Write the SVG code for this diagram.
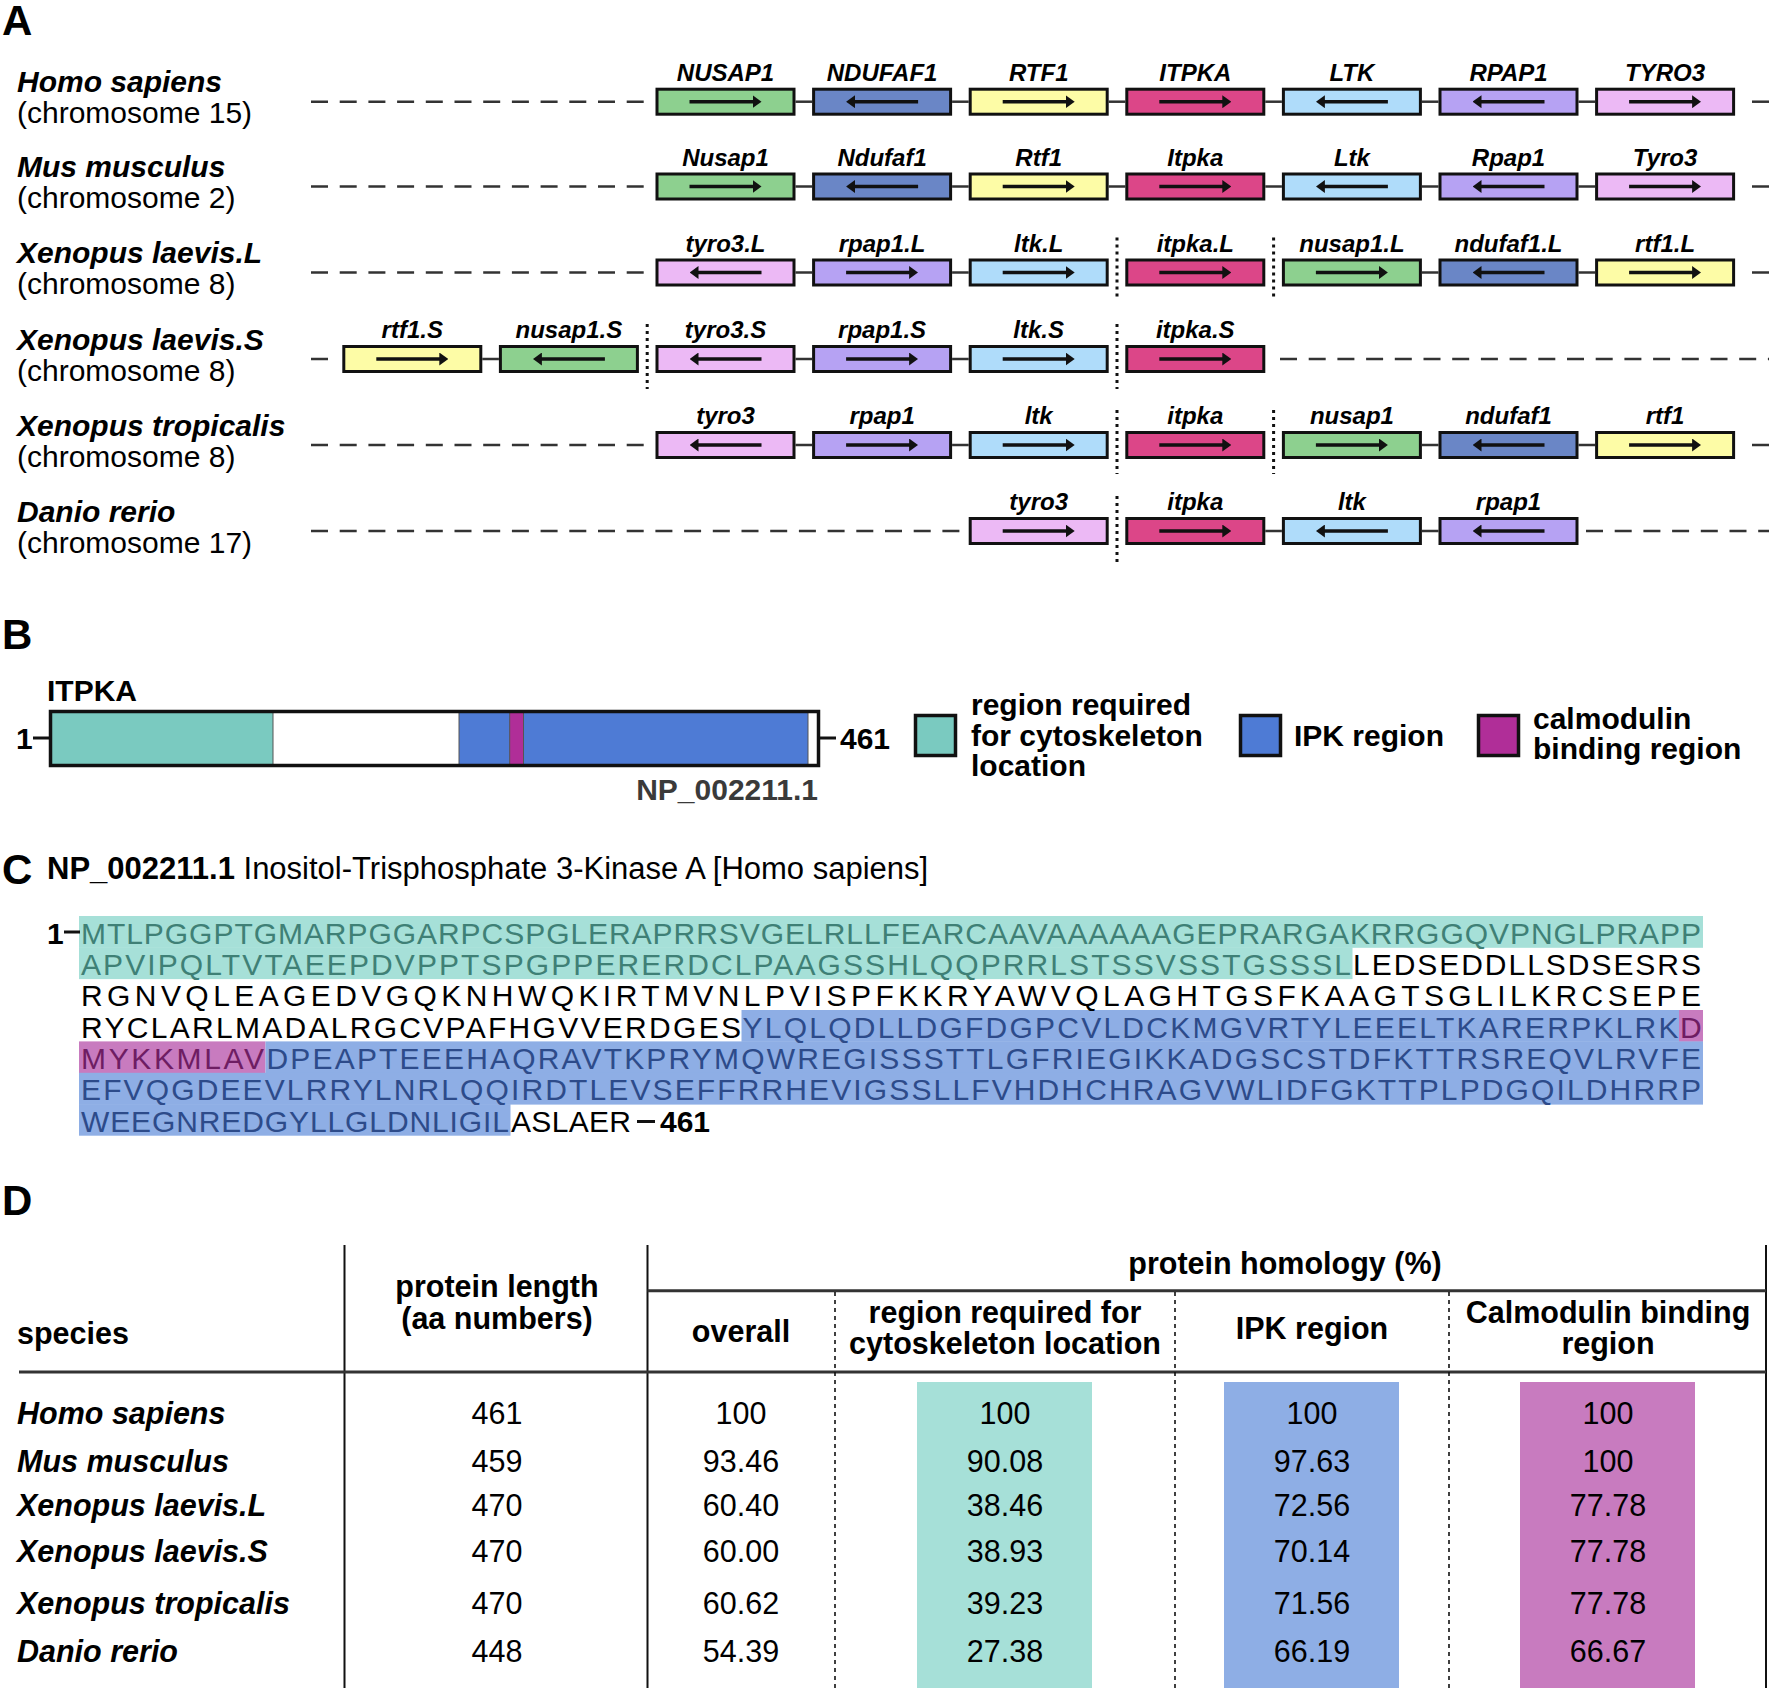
<svg xmlns="http://www.w3.org/2000/svg" width="1772" height="1688" viewBox="0 0 1772 1688">
<style>
text{font-family:"Liberation Sans",Arial,sans-serif;fill:#000}
.pl{font-weight:bold;font-size:42px}
.sp{font-style:italic;font-weight:bold;font-size:30px}
.ch{font-size:30px}
.gl{font-style:italic;font-weight:bold;font-size:24px;text-anchor:middle}
.b{stroke:#111;stroke-width:3}
.ar{stroke:#111;stroke-width:3.5;marker-end:url(#ah)}
.cn{stroke:#333;stroke-width:2.5}
.dl{stroke:#333;stroke-width:2.5;stroke-dasharray:17 11.7}
.dt{stroke:#111;stroke-width:3;stroke-dasharray:3 4}
.gr{fill:#8dd08f}.nv{fill:#6a86c6}.ye{fill:#fdfca6}.rd{fill:#dc4688}.lb{fill:#afdcfa}.pu{fill:#b6a2f3}.pk{fill:#ecb9f5}
.bt{font-weight:bold;font-size:30px}
.sq{font-size:30px}
.tt{fill:#3f8076}.tb{fill:#2d4b8a}.tm{fill:#6e1d63}
.hd{font-weight:bold;font-size:30.5px;text-anchor:middle}
.sh{font-weight:bold;font-size:30.5px}
.ts{font-style:italic;font-weight:bold;font-size:30.5px}
.num{font-size:30.5px;text-anchor:middle}
.vl{stroke:#111;stroke-width:2}
.hl{stroke:#333;stroke-width:3}
.dv{stroke:#111;stroke-width:1.6;stroke-dasharray:4 4}
</style>
<defs>
<marker id="ah" viewBox="0 0 9 13" refX="4" refY="6.5" markerWidth="9" markerHeight="13" markerUnits="userSpaceOnUse" orient="auto"><path d="M0,0 L9,6.5 L0,13 z" fill="#111"/></marker>
</defs>

<!-- Panel A -->
<text class="pl" x="2" y="35">A</text>
<g id="species-A">
<text class="sp" x="17" y="92">Homo sapiens</text><text class="ch" x="17" y="123">(chromosome 15)</text>
<text class="sp" x="17" y="177">Mus musculus</text><text class="ch" x="17" y="208">(chromosome 2)</text>
<text class="sp" x="17" y="263">Xenopus laevis.L</text><text class="ch" x="17" y="294">(chromosome 8)</text>
<text class="sp" x="17" y="349.5">Xenopus laevis.S</text><text class="ch" x="17" y="380.5">(chromosome 8)</text>
<text class="sp" x="17" y="435.5">Xenopus tropicalis</text><text class="ch" x="17" y="466.5">(chromosome 8)</text>
<text class="sp" x="17" y="521.5">Danio rerio</text><text class="ch" x="17" y="552.5">(chromosome 17)</text>
</g>

<g id="connectors">
<!-- row1 -->
<line class="dl" x1="311" y1="101.7" x2="645" y2="101.7"/>
<line class="dl" x1="1752" y1="101.7" x2="1769" y2="101.7"/>
<line class="cn" x1="795.5" y1="101.7" x2="812.1" y2="101.7"/><line class="cn" x1="952.1" y1="101.7" x2="968.7" y2="101.7"/><line class="cn" x1="1108.7" y1="101.7" x2="1125.3" y2="101.7"/><line class="cn" x1="1265.3" y1="101.7" x2="1281.9" y2="101.7"/><line class="cn" x1="1421.9" y1="101.7" x2="1438.5" y2="101.7"/><line class="cn" x1="1578.5" y1="101.7" x2="1595.1" y2="101.7"/>
<!-- row2 -->
<line class="dl" x1="311" y1="186.5" x2="645" y2="186.5"/>
<line class="dl" x1="1752" y1="186.5" x2="1769" y2="186.5"/>
<line class="cn" x1="795.5" y1="186.5" x2="812.1" y2="186.5"/><line class="cn" x1="952.1" y1="186.5" x2="968.7" y2="186.5"/><line class="cn" x1="1108.7" y1="186.5" x2="1125.3" y2="186.5"/><line class="cn" x1="1265.3" y1="186.5" x2="1281.9" y2="186.5"/><line class="cn" x1="1421.9" y1="186.5" x2="1438.5" y2="186.5"/><line class="cn" x1="1578.5" y1="186.5" x2="1595.1" y2="186.5"/>
<!-- row3 -->
<line class="dl" x1="311" y1="272.5" x2="645" y2="272.5"/>
<line class="dl" x1="1752" y1="272.5" x2="1769" y2="272.5"/>
<line class="cn" x1="795.5" y1="272.5" x2="812.1" y2="272.5"/><line class="cn" x1="952.1" y1="272.5" x2="968.7" y2="272.5"/><line class="cn" x1="1421.9" y1="272.5" x2="1438.5" y2="272.5"/><line class="cn" x1="1578.5" y1="272.5" x2="1595.1" y2="272.5"/>
<line class="dt" x1="1117" y1="237.5" x2="1117" y2="299.5"/><line class="dt" x1="1273.6" y1="237.5" x2="1273.6" y2="299.5"/>
<!-- row4 -->
<line class="dl" x1="311" y1="359" x2="338" y2="359"/>
<line class="dl" x1="1280" y1="359" x2="1769" y2="359"/>
<line class="cn" x1="482.3" y1="359" x2="498.9" y2="359"/><line class="cn" x1="795.5" y1="359" x2="812.1" y2="359"/><line class="cn" x1="952.1" y1="359" x2="968.7" y2="359"/>
<line class="dt" x1="647.2" y1="324" x2="647.2" y2="389"/><line class="dt" x1="1117" y1="324" x2="1117" y2="389"/>
<!-- row5 -->
<line class="dl" x1="311" y1="445" x2="645" y2="445"/>
<line class="dl" x1="1752" y1="445" x2="1769" y2="445"/>
<line class="cn" x1="795.5" y1="445" x2="812.1" y2="445"/><line class="cn" x1="952.1" y1="445" x2="968.7" y2="445"/><line class="cn" x1="1421.9" y1="445" x2="1438.5" y2="445"/><line class="cn" x1="1578.5" y1="445" x2="1595.1" y2="445"/>
<line class="dt" x1="1117" y1="410" x2="1117" y2="474"/><line class="dt" x1="1273.6" y1="410" x2="1273.6" y2="474"/>
<!-- row6 -->
<line class="dl" x1="311" y1="531" x2="963" y2="531"/>
<line class="dl" x1="1586" y1="531" x2="1769" y2="531"/>
<line class="cn" x1="1265.3" y1="531" x2="1281.9" y2="531"/><line class="cn" x1="1421.9" y1="531" x2="1438.5" y2="531"/>
<line class="dt" x1="1117" y1="496" x2="1117" y2="562"/>
</g>

<!-- row 1 genes -->
<g id="r1-NUSAP1"><rect class="b gr" x="657" y="89.2" width="137" height="25"/><line class="ar" x1="689.5" y1="101.7" x2="756.5" y2="101.7"/><text class="gl" x="725.5" y="80.7">NUSAP1</text></g>
<g id="r1-NDUFAF1"><rect class="b nv" x="813.6" y="89.2" width="137" height="25"/><line class="ar" x1="918.1" y1="101.7" x2="851.1" y2="101.7"/><text class="gl" x="882.1" y="80.7">NDUFAF1</text></g>
<g id="r1-RTF1"><rect class="b ye" x="970.2" y="89.2" width="137" height="25"/><line class="ar" x1="1002.7" y1="101.7" x2="1069.7" y2="101.7"/><text class="gl" x="1038.7" y="80.7">RTF1</text></g>
<g id="r1-ITPKA"><rect class="b rd" x="1126.8" y="89.2" width="137" height="25"/><line class="ar" x1="1159.3" y1="101.7" x2="1226.3" y2="101.7"/><text class="gl" x="1195.3" y="80.7">ITPKA</text></g>
<g id="r1-LTK"><rect class="b lb" x="1283.4" y="89.2" width="137" height="25"/><line class="ar" x1="1387.9" y1="101.7" x2="1320.9" y2="101.7"/><text class="gl" x="1351.9" y="80.7">LTK</text></g>
<g id="r1-RPAP1"><rect class="b pu" x="1440" y="89.2" width="137" height="25"/><line class="ar" x1="1544.5" y1="101.7" x2="1477.5" y2="101.7"/><text class="gl" x="1508.5" y="80.7">RPAP1</text></g>
<g id="r1-TYRO3"><rect class="b pk" x="1596.6" y="89.2" width="137" height="25"/><line class="ar" x1="1629.1" y1="101.7" x2="1696.1" y2="101.7"/><text class="gl" x="1665.1" y="80.7">TYRO3</text></g>

<!-- row 2 genes -->
<g id="r2-Nusap1"><rect class="b gr" x="657" y="174" width="137" height="25"/><line class="ar" x1="689.5" y1="186.5" x2="756.5" y2="186.5"/><text class="gl" x="725.5" y="165.5">Nusap1</text></g>
<g id="r2-Ndufaf1"><rect class="b nv" x="813.6" y="174" width="137" height="25"/><line class="ar" x1="918.1" y1="186.5" x2="851.1" y2="186.5"/><text class="gl" x="882.1" y="165.5">Ndufaf1</text></g>
<g id="r2-Rtf1"><rect class="b ye" x="970.2" y="174" width="137" height="25"/><line class="ar" x1="1002.7" y1="186.5" x2="1069.7" y2="186.5"/><text class="gl" x="1038.7" y="165.5">Rtf1</text></g>
<g id="r2-Itpka"><rect class="b rd" x="1126.8" y="174" width="137" height="25"/><line class="ar" x1="1159.3" y1="186.5" x2="1226.3" y2="186.5"/><text class="gl" x="1195.3" y="165.5">Itpka</text></g>
<g id="r2-Ltk"><rect class="b lb" x="1283.4" y="174" width="137" height="25"/><line class="ar" x1="1387.9" y1="186.5" x2="1320.9" y2="186.5"/><text class="gl" x="1351.9" y="165.5">Ltk</text></g>
<g id="r2-Rpap1"><rect class="b pu" x="1440" y="174" width="137" height="25"/><line class="ar" x1="1544.5" y1="186.5" x2="1477.5" y2="186.5"/><text class="gl" x="1508.5" y="165.5">Rpap1</text></g>
<g id="r2-Tyro3"><rect class="b pk" x="1596.6" y="174" width="137" height="25"/><line class="ar" x1="1629.1" y1="186.5" x2="1696.1" y2="186.5"/><text class="gl" x="1665.1" y="165.5">Tyro3</text></g>

<!-- row 3 genes -->
<g id="r3-tyro3L"><rect class="b pk" x="657" y="260" width="137" height="25"/><line class="ar" x1="761.5" y1="272.5" x2="694.5" y2="272.5"/><text class="gl" x="725.5" y="251.5">tyro3.L</text></g>
<g id="r3-rpap1L"><rect class="b pu" x="813.6" y="260" width="137" height="25"/><line class="ar" x1="846.1" y1="272.5" x2="913.1" y2="272.5"/><text class="gl" x="882.1" y="251.5">rpap1.L</text></g>
<g id="r3-ltkL"><rect class="b lb" x="970.2" y="260" width="137" height="25"/><line class="ar" x1="1002.7" y1="272.5" x2="1069.7" y2="272.5"/><text class="gl" x="1038.7" y="251.5">ltk.L</text></g>
<g id="r3-itpkaL"><rect class="b rd" x="1126.8" y="260" width="137" height="25"/><line class="ar" x1="1159.3" y1="272.5" x2="1226.3" y2="272.5"/><text class="gl" x="1195.3" y="251.5">itpka.L</text></g>
<g id="r3-nusap1L"><rect class="b gr" x="1283.4" y="260" width="137" height="25"/><line class="ar" x1="1315.9" y1="272.5" x2="1382.9" y2="272.5"/><text class="gl" x="1351.9" y="251.5">nusap1.L</text></g>
<g id="r3-ndufaf1L"><rect class="b nv" x="1440" y="260" width="137" height="25"/><line class="ar" x1="1544.5" y1="272.5" x2="1477.5" y2="272.5"/><text class="gl" x="1508.5" y="251.5">ndufaf1.L</text></g>
<g id="r3-rtf1L"><rect class="b ye" x="1596.6" y="260" width="137" height="25"/><line class="ar" x1="1629.1" y1="272.5" x2="1696.1" y2="272.5"/><text class="gl" x="1665.1" y="251.5">rtf1.L</text></g>

<!-- row 4 genes -->
<g id="r4-rtf1S"><rect class="b ye" x="343.8" y="346.5" width="137" height="25"/><line class="ar" x1="376.3" y1="359" x2="443.3" y2="359"/><text class="gl" x="412.3" y="338">rtf1.S</text></g>
<g id="r4-nusap1S"><rect class="b gr" x="500.4" y="346.5" width="137" height="25"/><line class="ar" x1="604.9" y1="359" x2="537.9" y2="359"/><text class="gl" x="568.9" y="338">nusap1.S</text></g>
<g id="r4-tyro3S"><rect class="b pk" x="657" y="346.5" width="137" height="25"/><line class="ar" x1="761.5" y1="359" x2="694.5" y2="359"/><text class="gl" x="725.5" y="338">tyro3.S</text></g>
<g id="r4-rpap1S"><rect class="b pu" x="813.6" y="346.5" width="137" height="25"/><line class="ar" x1="846.1" y1="359" x2="913.1" y2="359"/><text class="gl" x="882.1" y="338">rpap1.S</text></g>
<g id="r4-ltkS"><rect class="b lb" x="970.2" y="346.5" width="137" height="25"/><line class="ar" x1="1002.7" y1="359" x2="1069.7" y2="359"/><text class="gl" x="1038.7" y="338">ltk.S</text></g>
<g id="r4-itpkaS"><rect class="b rd" x="1126.8" y="346.5" width="137" height="25"/><line class="ar" x1="1159.3" y1="359" x2="1226.3" y2="359"/><text class="gl" x="1195.3" y="338">itpka.S</text></g>

<!-- row 5 genes -->
<g id="r5-tyro3"><rect class="b pk" x="657" y="432.5" width="137" height="25"/><line class="ar" x1="761.5" y1="445" x2="694.5" y2="445"/><text class="gl" x="725.5" y="424">tyro3</text></g>
<g id="r5-rpap1"><rect class="b pu" x="813.6" y="432.5" width="137" height="25"/><line class="ar" x1="846.1" y1="445" x2="913.1" y2="445"/><text class="gl" x="882.1" y="424">rpap1</text></g>
<g id="r5-ltk"><rect class="b lb" x="970.2" y="432.5" width="137" height="25"/><line class="ar" x1="1002.7" y1="445" x2="1069.7" y2="445"/><text class="gl" x="1038.7" y="424">ltk</text></g>
<g id="r5-itpka"><rect class="b rd" x="1126.8" y="432.5" width="137" height="25"/><line class="ar" x1="1159.3" y1="445" x2="1226.3" y2="445"/><text class="gl" x="1195.3" y="424">itpka</text></g>
<g id="r5-nusap1"><rect class="b gr" x="1283.4" y="432.5" width="137" height="25"/><line class="ar" x1="1315.9" y1="445" x2="1382.9" y2="445"/><text class="gl" x="1351.9" y="424">nusap1</text></g>
<g id="r5-ndufaf1"><rect class="b nv" x="1440" y="432.5" width="137" height="25"/><line class="ar" x1="1544.5" y1="445" x2="1477.5" y2="445"/><text class="gl" x="1508.5" y="424">ndufaf1</text></g>
<g id="r5-rtf1"><rect class="b ye" x="1596.6" y="432.5" width="137" height="25"/><line class="ar" x1="1629.1" y1="445" x2="1696.1" y2="445"/><text class="gl" x="1665.1" y="424">rtf1</text></g>

<!-- row 6 genes -->
<g id="r6-tyro3"><rect class="b pk" x="970.2" y="518.5" width="137" height="25"/><line class="ar" x1="1002.7" y1="531" x2="1069.7" y2="531"/><text class="gl" x="1038.7" y="510">tyro3</text></g>
<g id="r6-itpka"><rect class="b rd" x="1126.8" y="518.5" width="137" height="25"/><line class="ar" x1="1159.3" y1="531" x2="1226.3" y2="531"/><text class="gl" x="1195.3" y="510">itpka</text></g>
<g id="r6-ltk"><rect class="b lb" x="1283.4" y="518.5" width="137" height="25"/><line class="ar" x1="1387.9" y1="531" x2="1320.9" y2="531"/><text class="gl" x="1351.9" y="510">ltk</text></g>
<g id="r6-rpap1"><rect class="b pu" x="1440" y="518.5" width="137" height="25"/><line class="ar" x1="1544.5" y1="531" x2="1477.5" y2="531"/><text class="gl" x="1508.5" y="510">rpap1</text></g>

<!-- Panel B -->
<text class="pl" x="2" y="649">B</text>
<g id="protein-bar">
<text class="bt" x="47" y="701">ITPKA</text>
<text class="bt" x="16" y="749">1</text>
<line x1="33" y1="738" x2="49" y2="738" stroke="#111" stroke-width="3"/>
<rect x="50.5" y="711.5" width="768" height="54" fill="#fff"/>
<rect x="50.5" y="711.5" width="222.5" height="54" fill="#7acac0"/>
<rect x="459" y="711.5" width="349" height="54" fill="#4e7bd5"/>
<rect x="509.7" y="711.5" width="13.8" height="54" fill="#b02e98"/>
<line x1="273" y1="711.5" x2="273" y2="765.5" stroke="#555" stroke-width="1"/>
<line x1="459" y1="711.5" x2="459" y2="765.5" stroke="#555" stroke-width="1"/>
<line x1="509.7" y1="711.5" x2="509.7" y2="765.5" stroke="#555" stroke-width="1"/>
<line x1="523.5" y1="711.5" x2="523.5" y2="765.5" stroke="#555" stroke-width="1"/>
<line x1="808" y1="711.5" x2="808" y2="765.5" stroke="#555" stroke-width="1"/>
<rect x="50.5" y="711.5" width="768" height="54" fill="none" stroke="#111" stroke-width="3.5"/>
<line x1="820" y1="738" x2="836" y2="738" stroke="#111" stroke-width="3"/>
<text class="bt" x="840" y="749">461</text>
<text class="bt" x="818" y="800" text-anchor="end" style="fill:#3a3a3a">NP_002211.1</text>
</g>
<g id="legend">
<rect x="915.5" y="715.5" width="40" height="40" fill="#7acac0" stroke="#111" stroke-width="3.5"/>
<text class="bt" x="971" y="715">region required</text>
<text class="bt" x="971" y="746">for cytoskeleton</text>
<text class="bt" x="971" y="776">location</text>
<rect x="1240.5" y="715.5" width="40" height="40" fill="#4e7bd5" stroke="#111" stroke-width="3.5"/>
<text class="bt" x="1294" y="746">IPK region</text>
<rect x="1478.5" y="715.5" width="40" height="40" fill="#b02e98" stroke="#111" stroke-width="3.5"/>
<text class="bt" x="1533" y="729">calmodulin</text>
<text class="bt" x="1533" y="759">binding region</text>
</g>

<!-- Panel C -->
<text class="pl" x="2" y="884">C</text>
<g id="sequence">
<text x="47" y="879" style="font-size:31px"><tspan font-weight="bold">NP_002211.1</tspan> Inositol-Trisphosphate 3-Kinase A [Homo sapiens]</text>
<rect x="79" y="916" width="1624" height="31.8" fill="#a6e0d8"/>
<rect x="79" y="947.3" width="1273.5" height="31.8" fill="#a6e0d8"/>
<rect x="741.5" y="1010" width="937.5" height="31.8" fill="#8eaee5"/>
<rect x="1679" y="1010" width="24" height="31.8" fill="#c87bbf"/>
<rect x="79" y="1041.4" width="186.5" height="31.8" fill="#c87bbf"/>
<rect x="265.5" y="1041.4" width="1437.5" height="31.8" fill="#8eaee5"/>
<rect x="79" y="1072.8" width="1624" height="31.8" fill="#8eaee5"/>
<rect x="79" y="1104.1" width="431.5" height="31.6" fill="#8eaee5"/>
<text class="bt" x="47" y="943.5">1</text>
<line x1="64" y1="932" x2="80" y2="932" stroke="#111" stroke-width="3"/>
<text class="sq tt" x="81" y="943.5" textLength="1620" lengthAdjust="spacing">MTLPGGPTGMARPGGARPCSPGLERAPRRSVGELRLLFEARCAAVAAAAAAGEPRARGAKRRGGQVPNGLPRAPP</text>
<text class="sq tt" x="81" y="974.9" textLength="1270" lengthAdjust="spacing">APVIPQLTVTAEEPDVPPTSPGPPERERDCLPAAGSSHLQQPRRLSTSSVSSTGSSSL</text>
<text class="sq" x="1353" y="974.9" textLength="348" lengthAdjust="spacing">LEDSEDDLLSDSESRS</text>
<text class="sq" x="81" y="1006.2" textLength="1620" lengthAdjust="spacing">RGNVQLEAGEDVGQKNHWQKIRTMVNLPVISPFKKRYAWVQLAGHTGSFKAAGTSGLILKRCSEPE</text>
<text class="sq" x="81" y="1037.6" textLength="660" lengthAdjust="spacing">RYCLARLMADALRGCVPAFHGVVERDGES</text>
<text class="sq tb" x="742.5" y="1037.6" textLength="936" lengthAdjust="spacing">YLQLQDLLDGFDGPCVLDCKMGVRTYLEEELTKARERPKLRK</text>
<text class="sq tm" x="1680" y="1037.6">D</text>
<text class="sq tm" x="81" y="1068.9" textLength="183" lengthAdjust="spacing">MYKKMLAV</text>
<text class="sq tb" x="266.5" y="1068.9" textLength="1434.5" lengthAdjust="spacing">DPEAPTEEEHAQRAVTKPRYMQWREGISSSTTLGFRIEGIKKADGSCSTDFKTTRSREQVLRVFE</text>
<text class="sq tb" x="81" y="1100.3" textLength="1620" lengthAdjust="spacing">EFVQGDEEVLRRYLNRLQQIRDTLEVSEFFRRHEVIGSSLLFVHDHCHRAGVWLIDFGKTTPLPDGQILDHRRP</text>
<text class="sq tb" x="81" y="1131.6" textLength="428" lengthAdjust="spacing">WEEGNREDGYLLGLDNLIGIL</text>
<text class="sq" x="511" y="1131.6" textLength="120" lengthAdjust="spacing">ASLAER</text>
<line x1="637" y1="1121.5" x2="655" y2="1121.5" stroke="#111" stroke-width="3"/>
<text class="bt" x="660" y="1131.6">461</text>
</g>

<!-- Panel D -->
<text class="pl" x="2" y="1215">D</text>
<g id="table">
<rect x="917" y="1382" width="175" height="306" fill="#a6e0d8"/>
<rect x="1224" y="1382" width="175" height="306" fill="#8eaee5"/>
<rect x="1520" y="1382" width="175" height="306" fill="#c87bbf"/>
<line class="vl" x1="344.5" y1="1245" x2="344.5" y2="1688"/>
<line class="vl" x1="647.5" y1="1245" x2="647.5" y2="1688"/>
<line class="vl" x1="1766" y1="1245" x2="1766" y2="1688"/>
<line class="hl" x1="647.5" y1="1290.7" x2="1766" y2="1290.7"/>
<line class="hl" x1="19" y1="1372" x2="1766" y2="1372"/>
<line class="dv" x1="835" y1="1292" x2="835" y2="1688"/>
<line class="dv" x1="1175" y1="1292" x2="1175" y2="1688"/>
<line class="dv" x1="1449" y1="1292" x2="1449" y2="1688"/>
<text class="sh" x="17" y="1344">species</text>
<text class="hd" x="497" y="1297">protein length</text>
<text class="hd" x="497" y="1329">(aa numbers)</text>
<text class="hd" x="1285" y="1274">protein homology (%)</text>
<text class="hd" x="741" y="1342">overall</text>
<text class="hd" x="1005" y="1323">region required for</text>
<text class="hd" x="1005" y="1354">cytoskeleton location</text>
<text class="hd" x="1312" y="1339">IPK region</text>
<text class="hd" x="1608" y="1323">Calmodulin binding</text>
<text class="hd" x="1608" y="1354">region</text>
<g id="row-homo"><text class="ts" x="17" y="1423.5">Homo sapiens</text><text class="num" x="497" y="1423.5">461</text><text class="num" x="741" y="1423.5">100</text><text class="num" x="1005" y="1423.5">100</text><text class="num" x="1312" y="1423.5">100</text><text class="num" x="1608" y="1423.5">100</text></g>
<g id="row-mus"><text class="ts" x="17" y="1472">Mus musculus</text><text class="num" x="497" y="1472">459</text><text class="num" x="741" y="1472">93.46</text><text class="num" x="1005" y="1472">90.08</text><text class="num" x="1312" y="1472">97.63</text><text class="num" x="1608" y="1472">100</text></g>
<g id="row-xll"><text class="ts" x="17" y="1515.5">Xenopus laevis.L</text><text class="num" x="497" y="1515.5">470</text><text class="num" x="741" y="1515.5">60.40</text><text class="num" x="1005" y="1515.5">38.46</text><text class="num" x="1312" y="1515.5">72.56</text><text class="num" x="1608" y="1515.5">77.78</text></g>
<g id="row-xls"><text class="ts" x="17" y="1562">Xenopus laevis.S</text><text class="num" x="497" y="1562">470</text><text class="num" x="741" y="1562">60.00</text><text class="num" x="1005" y="1562">38.93</text><text class="num" x="1312" y="1562">70.14</text><text class="num" x="1608" y="1562">77.78</text></g>
<g id="row-xt"><text class="ts" x="17" y="1613.5">Xenopus tropicalis</text><text class="num" x="497" y="1613.5">470</text><text class="num" x="741" y="1613.5">60.62</text><text class="num" x="1005" y="1613.5">39.23</text><text class="num" x="1312" y="1613.5">71.56</text><text class="num" x="1608" y="1613.5">77.78</text></g>
<g id="row-dr"><text class="ts" x="17" y="1662">Danio rerio</text><text class="num" x="497" y="1662">448</text><text class="num" x="741" y="1662">54.39</text><text class="num" x="1005" y="1662">27.38</text><text class="num" x="1312" y="1662">66.19</text><text class="num" x="1608" y="1662">66.67</text></g>
</g>
</svg>
